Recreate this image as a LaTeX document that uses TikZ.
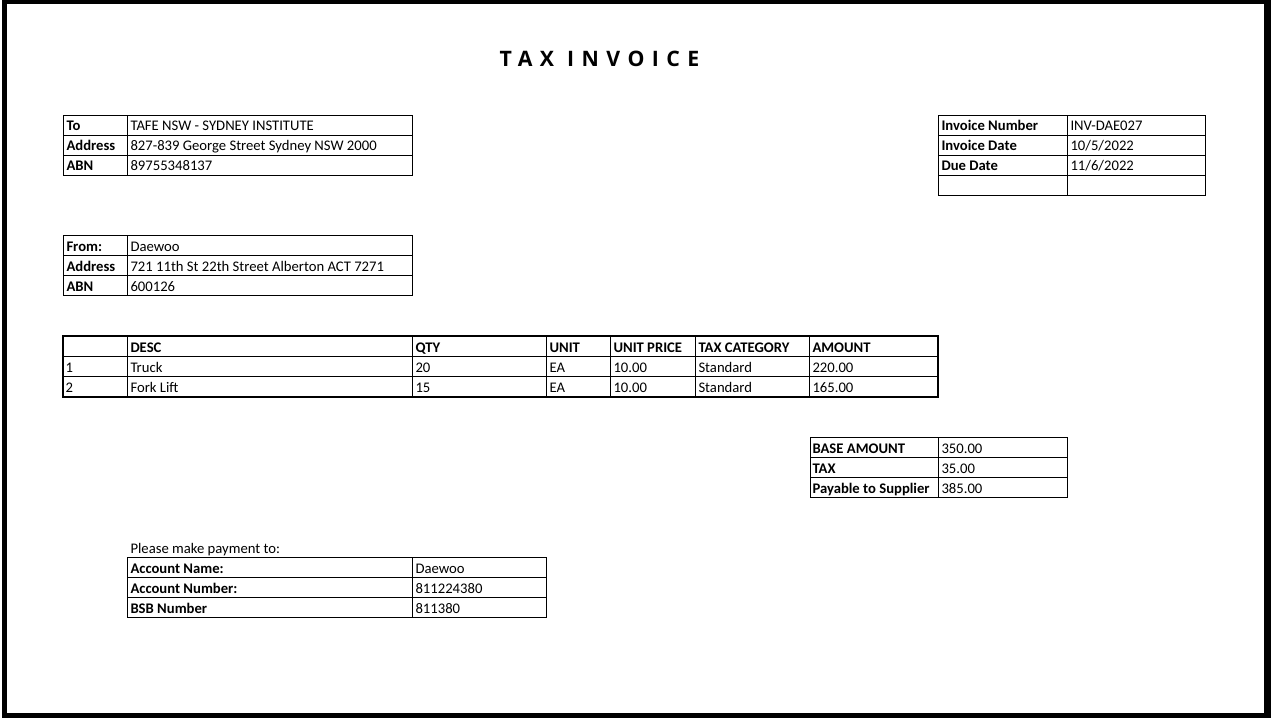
\documentclass[tikz,border=0pt]{standalone}
\usepackage{fontspec}
\setmainfont{Carlito}
\newfontfamily\titlefont[LetterSpace=35]{Open Sans}

\begin{document}
\begin{tikzpicture}[x=1pt, y=-1pt, line width=1pt,
    cell/.style = {anchor=base west, inner sep=0pt, font=\fontsize{14.67}{17}\selectfont},
    lbl/.style = {cell, font=\fontsize{14.67}{17}\selectfont\bfseries},
    grid/.style = {draw=black, line width=1pt}]
    % page frame
    \useasboundingbox (0,0) rectangle (1271,718);
    \fill[black] (2,0) rectangle (1271,718);
    \fill[white] (7,4) rectangle (1264,713);

    \node[anchor=base west, inner sep=0pt, font=\titlefont\bfseries\fontsize{21.3}{25}\selectfont] (title) at (499,66.7) {TAX INVOICE};

    % to
    \draw[grid] (63,115) rectangle (412,175);
    \foreach \y in {135,155} \draw[grid] (63,\y) -- (412,\y);
    \draw[grid] (127,115) -- (127,175);
    \foreach \lab/\val [count=\i] in {To/TAFE NSW - SYDNEY INSTITUTE, Address/827-839 George Street Sydney NSW 2000, ABN/89755348137} {
        \node[lbl] (to-l\i) at (66, 115+20*\i-4.5) {\lab};
        \node[cell] (to-v\i) at (130, 115+20*\i-4.5) {\val};
    }

    % from
    \draw[grid] (63,235.5) rectangle (412,295.5);
    \foreach \y in {255.5,275.5} \draw[grid] (63,\y) -- (412,\y);
    \draw[grid] (127,235.5) -- (127,295.5);
    \foreach \lab/\val [count=\i] in {From:/Daewoo, Address/721 11th St 22th Street Alberton ACT 7271, ABN/600126} {
        \node[lbl] (from-l\i) at (66, 235.5+20*\i-4.5) {\lab};
        \node[cell] (from-v\i) at (130, 235.5+20*\i-4.5) {\val};
    }

    % invoice details
    \draw[grid] (938,115) rectangle (1205.5,195);
    \foreach \y in {135,155,175} \draw[grid] (938,\y) -- (1205.5,\y);
    \draw[grid] (1067,115) -- (1067,195);
    \foreach \lab/\val [count=\i] in {Invoice Number/INV-DAE027, Invoice Date/{10/5/2022}, Due Date/{11/6/2022}} {
        \node[lbl] (inv-l\i) at (941, 115+20*\i-4.5) {\lab};
        \node[cell] (inv-v\i) at (1070, 115+20*\i-4.5) {\val};
    }

    % items
    \foreach \y in {356.5,376.5} \draw[grid] (63,\y) -- (938,\y);
    \foreach \x in {127,412.5,546.5,610.5,695.5,809.5} \draw[grid] (\x,336) -- (\x,396.5);
    \draw[line width=2pt] (63,336) rectangle (938,396.5);
    \foreach \txt/\x [count=\i] in {DESC/130, QTY/415, UNIT/549, UNIT PRICE/613, TAX CATEGORY/698, AMOUNT/812}
        \node[lbl] (hd\i) at (\x,352) {\txt};
    \foreach \no/\desc/\qty/\amt [count=\r] in {1/Truck/20/220.00, 2/Fork Lift/15/165.00} {
        \node[cell] (no\r) at (65, 352+20*\r) {\no};
        \node[cell] (desc\r) at (130, 352+20*\r) {\desc};
        \node[cell] (qty\r) at (415, 352+20*\r) {\qty};
        \node[cell] (unit\r) at (549, 352+20*\r) {EA};
        \node[cell] (price\r) at (613, 352+20*\r) {10.00};
        \node[cell] (cat\r) at (698, 352+20*\r) {Standard};
        \node[cell] (amt\r) at (812, 352+20*\r) {\amt};
    }

    % totals
    \draw[grid] (810,437.5) rectangle (1067,497.5);
    \foreach \y in {457.5,477.5} \draw[grid] (810,\y) -- (1067,\y);
    \draw[grid] (938,437.5) -- (938,497.5);
    \foreach \lab/\val [count=\i] in {BASE AMOUNT/350.00, TAX/35.00, Payable to Supplier/385.00} {
        \node[lbl] (tot-l\i) at (812, 437.5+20*\i-4.5) {\lab};
        \node[cell] (tot-v\i) at (941, 437.5+20*\i-4.5) {\val};
    }

    % payment
    \node[cell] (pay) at (130,553) {Please make payment to:};
    \draw[grid] (127.5,557.5) rectangle (546,617.5);
    \foreach \y in {577.5,597.5} \draw[grid] (127.5,\y) -- (546,\y);
    \draw[grid] (412.5,557.5) -- (412.5,617.5);
    \foreach \lab/\val [count=\i] in {Account Name:/Daewoo, Account Number:/811224380, BSB Number/811380} {
        \node[lbl] (pay-l\i) at (130, 557.5+20*\i-4.5) {\lab};
        \node[cell] (pay-v\i) at (415, 557.5+20*\i-4.5) {\val};
    }
\end{tikzpicture}
\end{document}
